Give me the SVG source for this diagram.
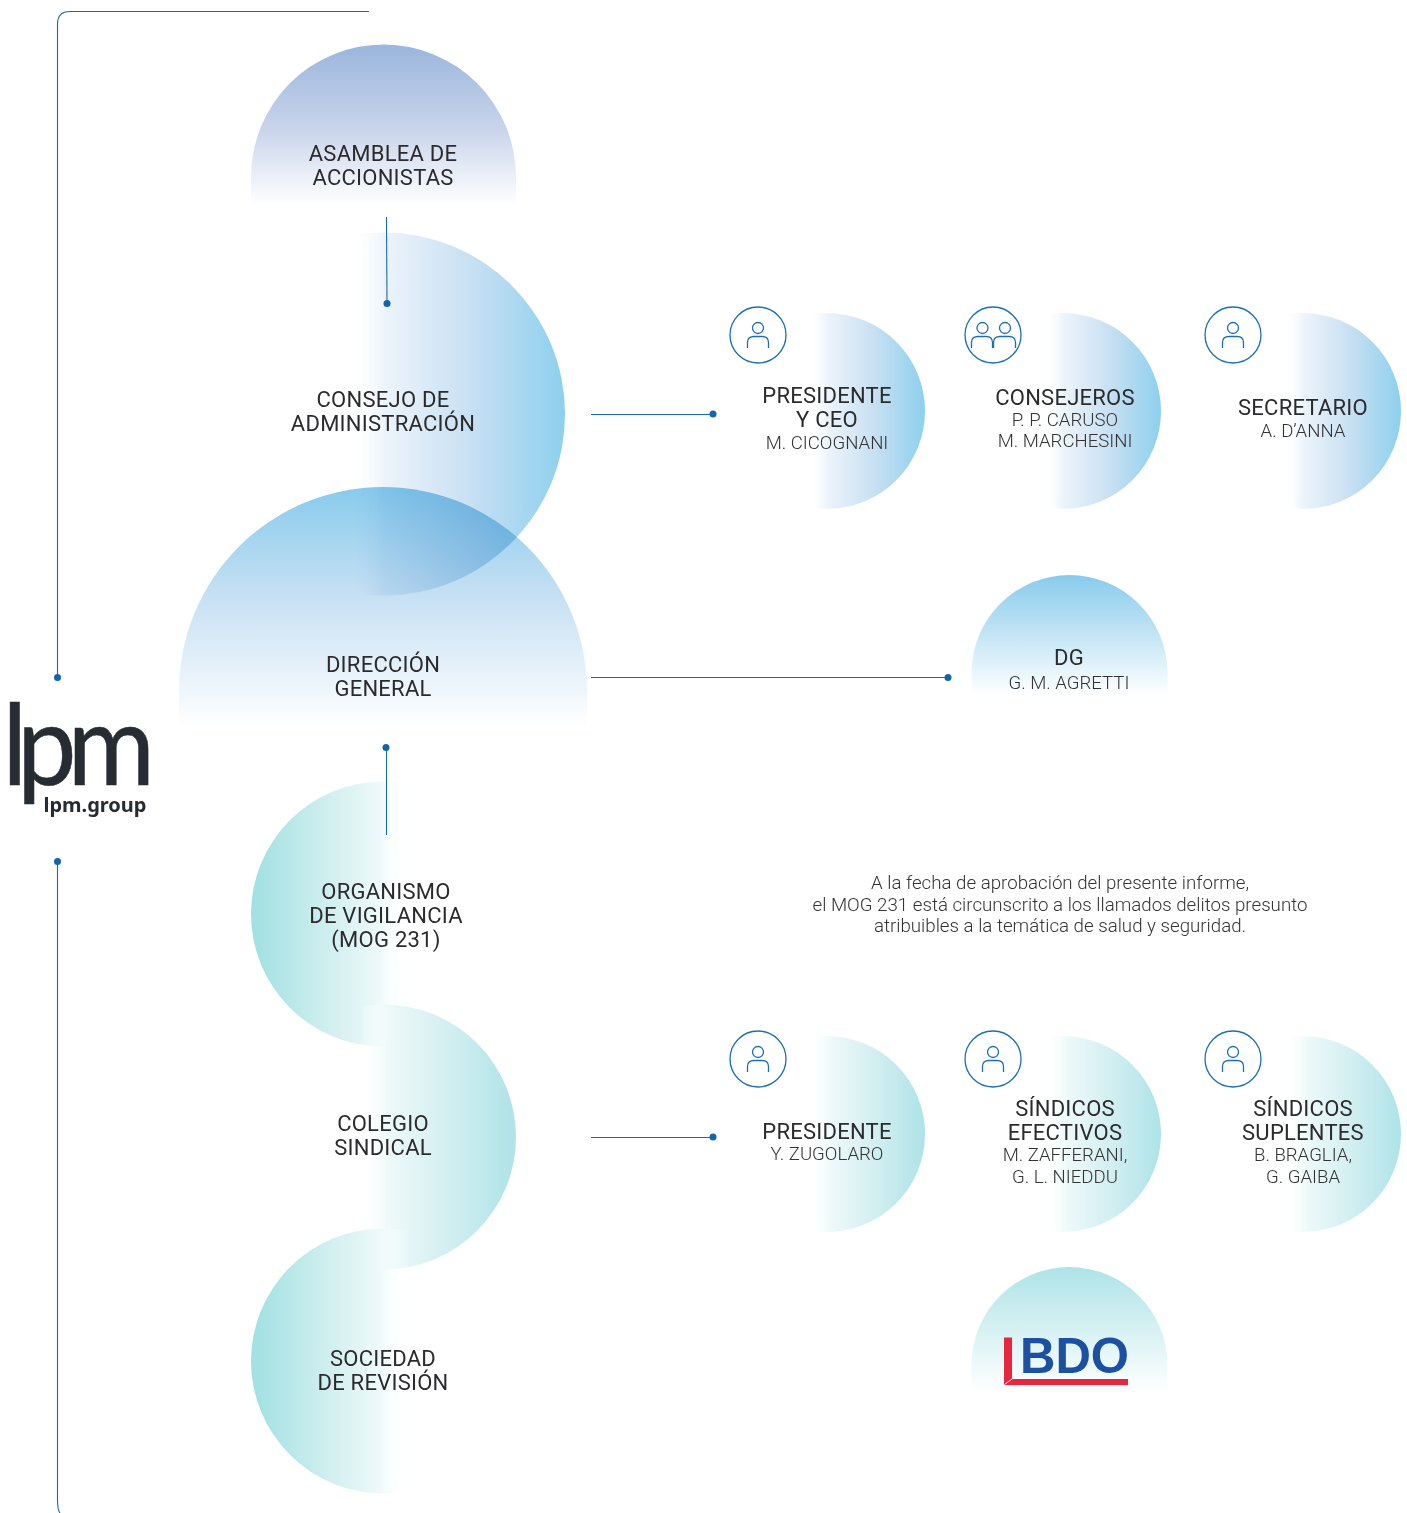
<svg xmlns="http://www.w3.org/2000/svg" width="1407" height="1513" viewBox="0 0 1407 1513">
<style>
text{font-family:Roboto,"Liberation Sans",sans-serif;text-anchor:middle;fill:#2b2b2e}
.h{font-size:22px;letter-spacing:.25px}
.n{font-size:18.6px;font-weight:300;fill:#333}
.p{font-size:18.7px;font-weight:300;fill:#333}
.ln{fill:none;stroke:#1a6aa8;stroke-width:1.1}
.dot{fill:#1265a8}
.ic{fill:none;stroke:#1a6fb0;stroke-width:1.3}
</style>
<defs>
<linearGradient id="gA" x1="0" y1="0" x2="0" y2="1"><stop offset="0" stop-color="#9ab6dc"/><stop offset=".5" stop-color="#c6d2ea"/><stop offset="1" stop-color="#fff"/></linearGradient>
<linearGradient id="gB" x1="0" y1="0" x2="1" y2="0"><stop offset=".41" stop-color="#fff" stop-opacity="0"/><stop offset=".5" stop-color="#edf4fb"/><stop offset=".75" stop-color="#c6dff2"/><stop offset="1" stop-color="#8dd0ee"/></linearGradient>
<linearGradient id="gD" x1="0" y1="0" x2="0" y2="1"><stop offset="0" stop-color="#88cbec"/><stop offset=".45" stop-color="#c6e0f3"/><stop offset="1" stop-color="#fff"/></linearGradient>
<linearGradient id="gT" x1="0" y1="0" x2="1" y2="0"><stop offset="0" stop-color="#a0e0e2"/><stop offset=".3" stop-color="#d2eff0"/><stop offset=".48" stop-color="#eef9f9"/><stop offset=".6" stop-color="#fff" stop-opacity="0"/></linearGradient>
<linearGradient id="gC" x1="0" y1="0" x2="1" y2="0"><stop offset=".41" stop-color="#fff" stop-opacity="0"/><stop offset=".52" stop-color="#eef9f9"/><stop offset=".72" stop-color="#d6f0f2"/><stop offset="1" stop-color="#aee3e7"/></linearGradient>
<linearGradient id="gS" x1="0" y1="0" x2="0" y2="1"><stop offset="0" stop-color="#88cbec"/><stop offset="1" stop-color="#fff"/></linearGradient>
<linearGradient id="gU" x1="0" y1="0" x2="0" y2="1"><stop offset="0" stop-color="#aee3e7"/><stop offset="1" stop-color="#fff"/></linearGradient>
<g id="p1"><circle class="ic" cx="28" cy="28" r="28"/><circle class="ic" cx="28" cy="21" r="5.5"/><path class="ic" d="M17.500 41V35.500Q17.500 29.500 24 29.500H32Q38.500 29.500 38.500 35.500V41"/></g>
</defs>

<g id="connectors">
<path class="ln" d="M369 11.500H70Q57.500 11.500 57.500 24V677"/><circle class="dot" cx="57.500" cy="677.500" r="3.500"/>
<path class="ln" d="M57.500 861V1500Q57.500 1510 60 1513"/><circle class="dot" cx="57.500" cy="861.500" r="3.500"/>
</g>

<g id="asamblea"><path d="M251 205V177A132.500 132.500 0 0 1 516 177V205Z" fill="url(#gA)"/><text class="h" x="383" y="161">ASAMBLEA DE</text><text class="h" x="383" y="185">ACCIONISTAS</text></g>
<g id="consejo"><circle cx="383.500" cy="414" r="181.500" fill="url(#gB)"/><text class="h" x="383" y="407">CONSEJO DE</text><text class="h" x="383" y="431">ADMINISTRACIÓN</text></g>
<g id="direccion"><path d="M179 728V691A204 204 0 0 1 587 691V728Z" fill="url(#gD)" style="mix-blend-mode:multiply"/><text class="h" x="383" y="672">DIRECCIÓN</text><text class="h" x="383" y="696">GENERAL</text></g>
<g id="organismo"><circle cx="383.500" cy="914" r="132.500" fill="url(#gT)"/><text class="h" x="386" y="899">ORGANISMO</text><text class="h" x="386" y="923">DE VIGILANCIA</text><text class="h" x="386" y="947">(MOG 231)</text></g>
<g id="colegio"><circle cx="383.500" cy="1137" r="132.500" fill="url(#gC)"/><text class="h" x="383" y="1131">COLEGIO</text><text class="h" x="383" y="1155">SINDICAL</text></g>
<g id="sociedad"><circle cx="383.500" cy="1361" r="132.500" fill="url(#gT)"/><text class="h" x="383" y="1366">SOCIEDAD</text><text class="h" x="383" y="1390">DE REVISIÓN</text></g>

<g id="connectors2">
<path class="ln" d="M386.500 217L387 303"/><circle class="dot" cx="387" cy="303.500" r="3.500"/>
<path class="ln" d="M591 414.500H713"/><circle class="dot" cx="713" cy="414" r="3.500"/>
<path class="ln" d="M591 677.500H948"/><circle class="dot" cx="948" cy="677.500" r="3.500"/>
<path class="ln" d="M386.500 748V835"/><circle class="dot" cx="386" cy="747.500" r="3.500"/>
<path class="ln" d="M591 1137.500H713"/><circle class="dot" cx="713" cy="1137" r="3.500"/>
</g>

<g id="presidente-ceo"><circle cx="827" cy="411" r="98" fill="url(#gB)"/><use href="#p1" x="730" y="307"/><text class="h" x="827" y="403">PRESIDENTE</text><text class="h" x="827" y="427">Y CEO</text><text class="n" x="827" y="449">M. CICOGNANI</text></g>
<g id="consejeros"><circle cx="1063" cy="411" r="98" fill="url(#gB)"/><circle class="ic" cx="993" cy="335" r="28"/><circle class="ic" cx="982.500" cy="328" r="5.500"/><circle class="ic" cx="1005" cy="328" r="5.500"/><path class="ic" d="M971.500 348V342.500Q971.500 336.500 978 336.500H986Q992.500 336.500 992.500 342.500V348M993.500 348V342.500Q993.500 336.500 1000 336.500H1009Q1015.500 336.500 1015.500 342.500V348"/><text class="h" x="1065" y="405">CONSEJEROS</text><text class="n" x="1065" y="426">P. P. CARUSO</text><text class="n" x="1065" y="447">M. MARCHESINI</text></g>
<g id="secretario"><circle cx="1303" cy="411" r="98" fill="url(#gB)"/><use href="#p1" x="1205" y="307"/><text class="h" x="1303" y="415">SECRETARIO</text><text class="n" x="1303" y="437">A. D’ANNA</text></g>
<g id="dg"><path d="M971.500 695V673A98 98 0 0 1 1167.500 673V695Z" fill="url(#gS)"/><text class="h" x="1069" y="665">DG</text><text class="n" x="1069" y="689">G. M. AGRETTI</text></g>

<g id="nota"><text class="p" x="1060" y="889">A la fecha de aprobación del presente informe,</text><text class="p" x="1060" y="911">el MOG 231 está circunscrito a los llamados delitos presunto</text><text class="p" x="1060" y="932">atribuibles a la temática de salud y seguridad.</text></g>

<g id="presidente"><circle cx="827" cy="1134" r="98" fill="url(#gC)"/><use href="#p1" x="730" y="1031"/><text class="h" x="827" y="1139">PRESIDENTE</text><text class="n" x="827" y="1160">Y. ZUGOLARO</text></g>
<g id="sindicos-efectivos"><circle cx="1063" cy="1134" r="98" fill="url(#gC)"/><use href="#p1" x="965" y="1031"/><text class="h" x="1065" y="1116">SÍNDICOS</text><text class="h" x="1065" y="1140">EFECTIVOS</text><text class="n" x="1065" y="1161">M. ZAFFERANI,</text><text class="n" x="1065" y="1183">G. L. NIEDDU</text></g>
<g id="sindicos-suplentes"><circle cx="1303" cy="1134" r="98" fill="url(#gC)"/><use href="#p1" x="1205" y="1031"/><text class="h" x="1303" y="1116">SÍNDICOS</text><text class="h" x="1303" y="1140">SUPLENTES</text><text class="n" x="1303" y="1161">B. BRAGLIA,</text><text class="n" x="1303" y="1183">G. GAIBA</text></g>
<g id="bdo"><path d="M971.500 1392V1365A98 98 0 0 1 1167.500 1365V1392Z" fill="url(#gU)"/>
<path d="M1004 1337.500H1012V1379H1128V1385H1004Z" fill="#e8263f"/><path d="M1004.500 1384.500L1012 1379" stroke="#fff" stroke-width="1" fill="none"/>
<text x="1020" y="1373" textLength="109" lengthAdjust="spacingAndGlyphs" style="font-family:'Liberation Sans',sans-serif;font-weight:700;font-size:50px;text-anchor:start;fill:#1c50a0">BDO</text></g>

<g id="lpm">
<text transform="scale(.95 1)" y="785" style="font-family:Lato,sans-serif;font-size:112px;text-anchor:start;fill:#262c31;stroke:#262c31;stroke-width:.5"><tspan x="2.500">l</tspan><tspan x="18">p</tspan><tspan x="71">m</tspan></text>
<text x="95" y="812" style="font-family:'Noto Sans',sans-serif;font-weight:700;font-size:20px;fill:#262c31">lpm.group</text>
</g>
</svg>
